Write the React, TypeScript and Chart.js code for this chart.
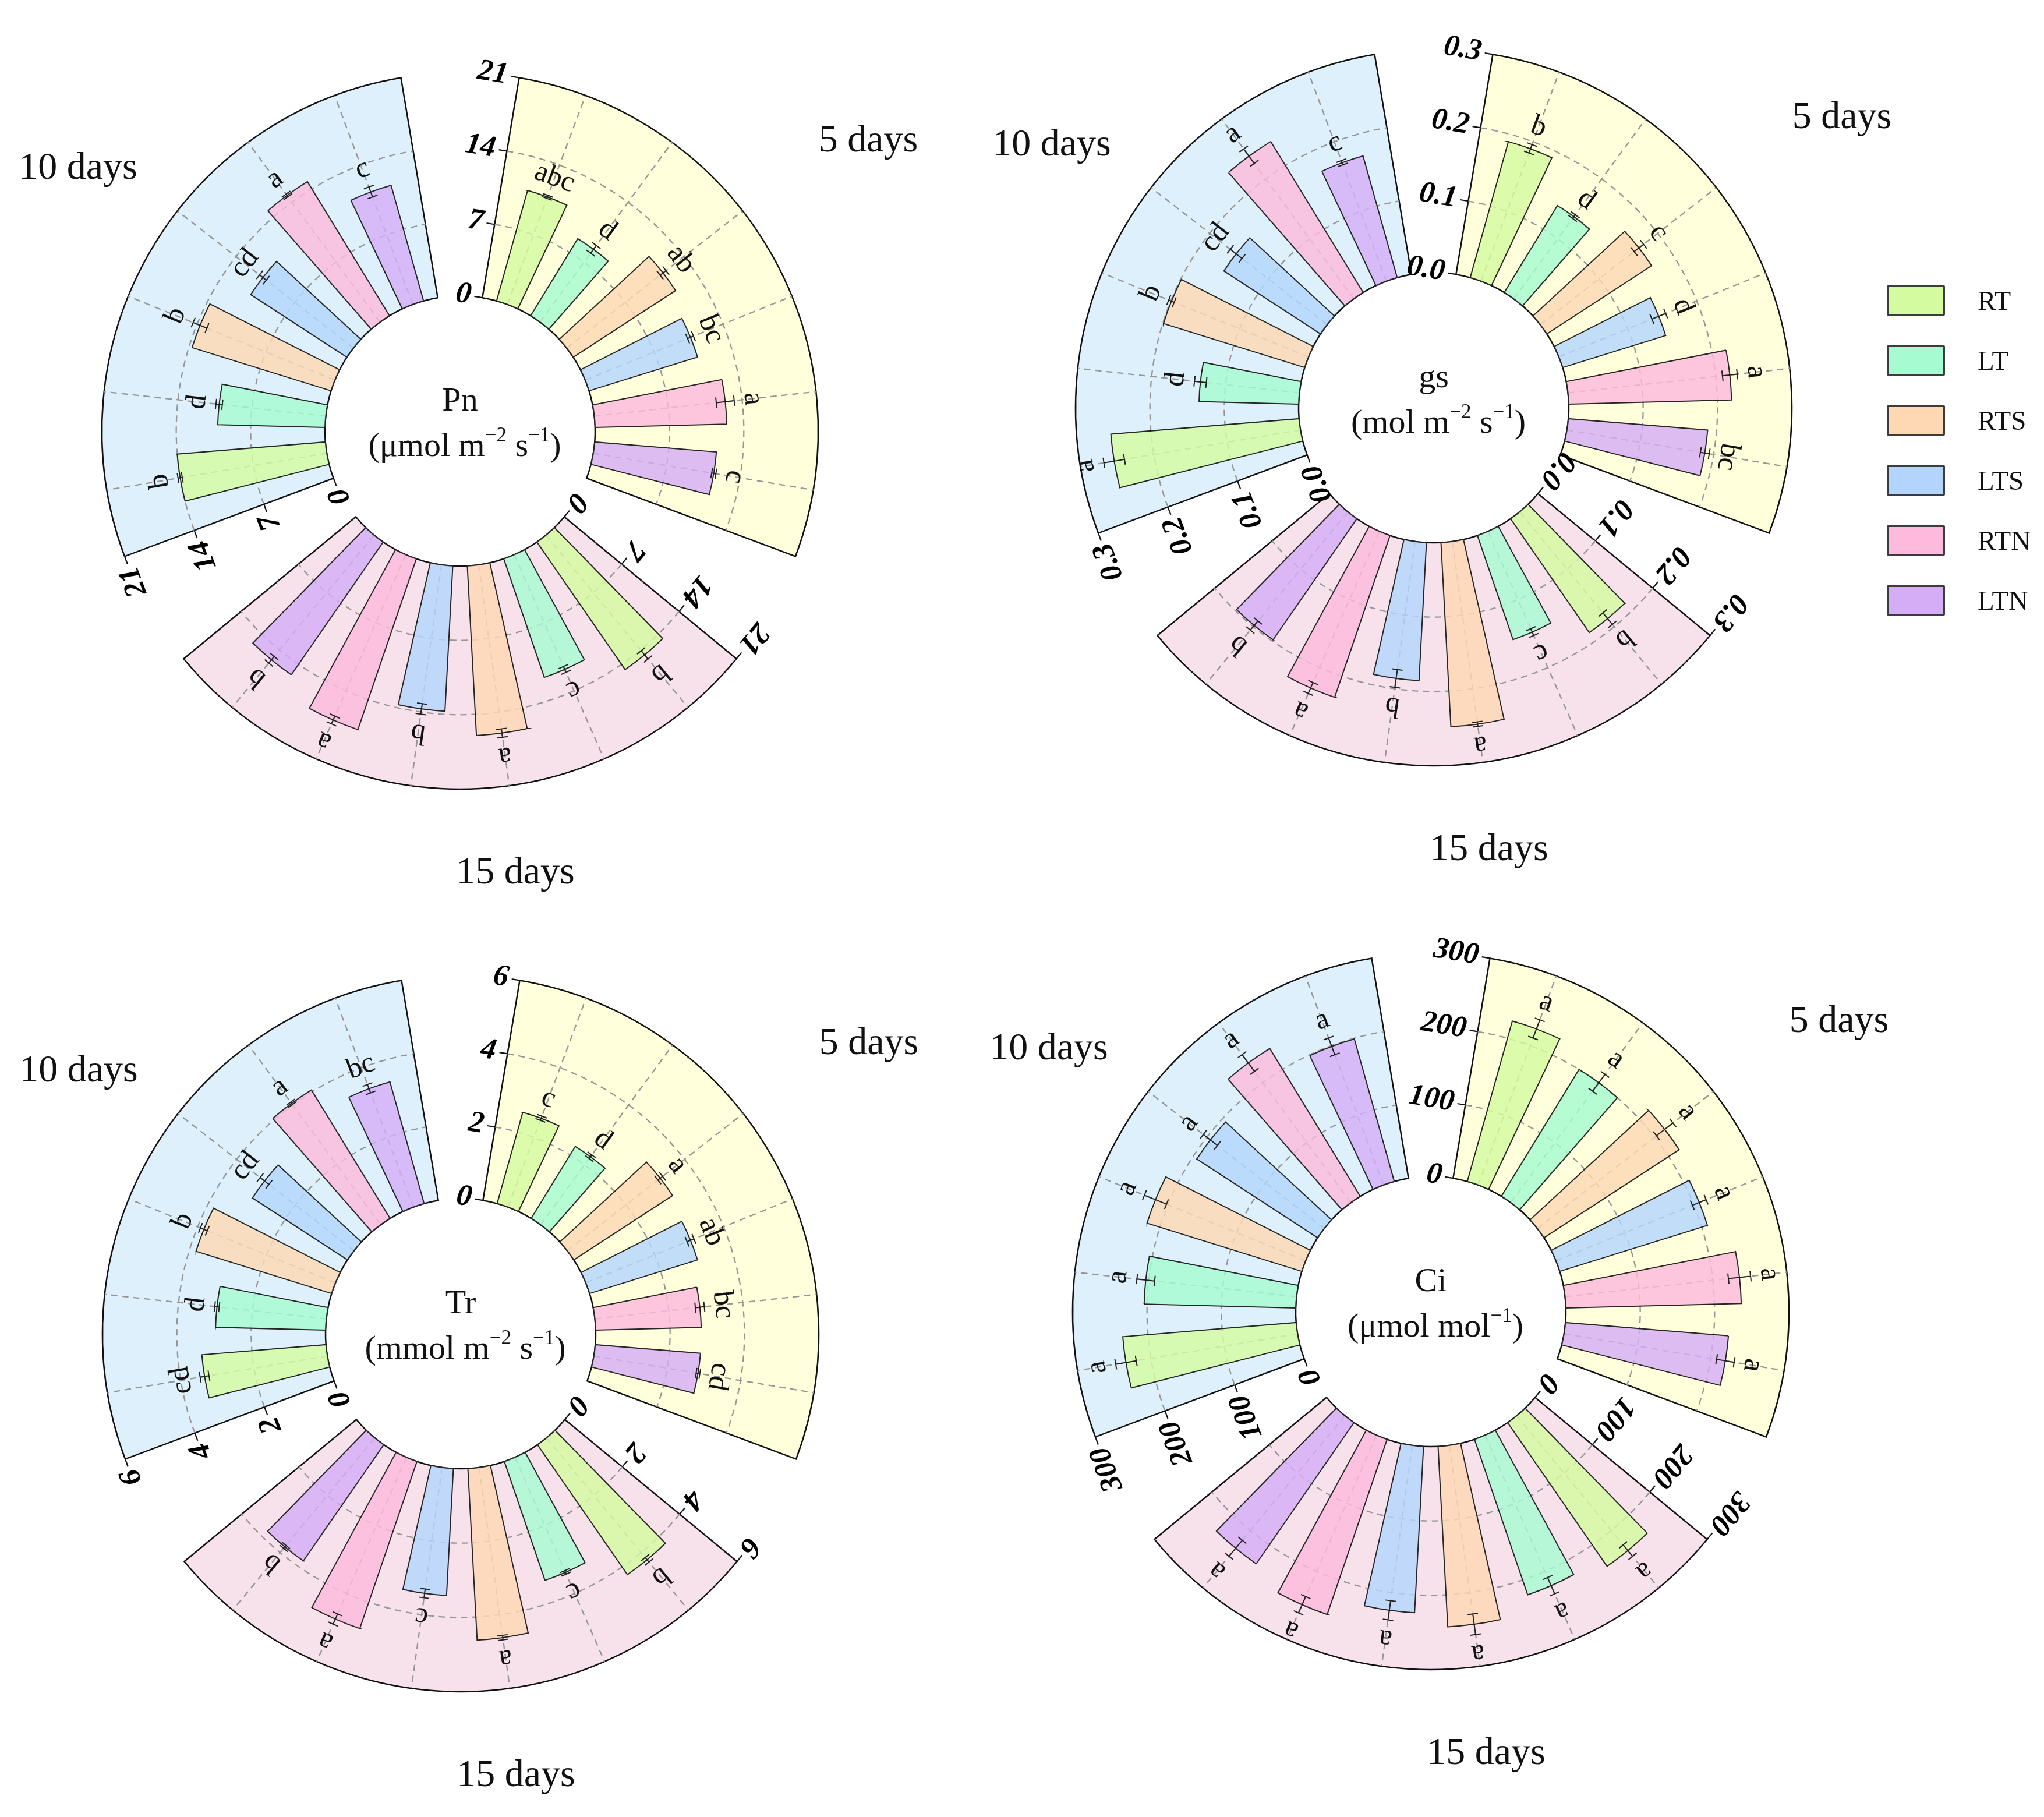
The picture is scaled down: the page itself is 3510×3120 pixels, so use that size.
import React, { useEffect, useRef } from "react";
import { Chart, registerables } from "chart.js";

Chart.register(...registerables);

const treatments = ["RT", "LT", "RTS", "LTS", "RTN", "LTN"];
const treatmentColors = ["#D4FBA0", "#A6FBD1", "#FED8B3", "#B3D5FD", "#FDBADC", "#D5ADF7"];

// sectors go clockwise from the top: 5 days, 15 days, 10 days
const periodLabels = ["5 days", "15 days", "10 days"];
const periodColors = ["#FFFFDB", "#F7E2EC", "#DEF0FC"];

// Pn
const pnTicks = [0, 7, 14, 21];
const pnTickLabels = ["0", "7", "14", "21"];
const pn5 = [10.8, 8.5, 11.5, 10.7, 12.4, 11.5];
const pn10 = [14.0, 10.1, 13.7, 10.8, 14.8, 11.3];
const pn15 = [14.6, 11.8, 16.0, 13.7, 17.0, 15.2];
const pnErr5 = [0.15, 0.45, 0.35, 0.3, 0.85, 0.2];
const pnErr10 = [0.2, 0.3, 0.7, 0.4, 0.15, 0.5];
const pnErr15 = [0.5, 0.3, 0.4, 0.5, 0.4, 0.4];
const pnSig5 = ["abc", "d", "ab", "bc", "a", "c"];
const pnSig10 = ["b", "d", "b", "cd", "a", "c"];
const pnSig15 = ["b", "c", "a", "b", "a", "b"];

// gs
const gsTicks = [0, 0.1, 0.2, 0.3];
const gsTickLabels = ["0.0", "0.1", "0.2", "0.3"];
const gs5 = [0.19, 0.137, 0.168, 0.145, 0.219, 0.188];
const gs10 = [0.254, 0.134, 0.199, 0.155, 0.238, 0.17];
const gs15 = [0.186, 0.148, 0.248, 0.186, 0.23, 0.198];
const gsErr5 = [0.006, 0.003, 0.008, 0.01, 0.01, 0.006];
const gsErr10 = [0.014, 0.008, 0.004, 0.01, 0.012, 0.003];
const gsErr15 = [0.01, 0.005, 0.003, 0.012, 0.008, 0.008];
const gsSig5 = ["b", "d", "c", "d", "a", "bc"];
const gsSig10 = ["a", "d", "b", "cd", "a", "c"];
const gsSig15 = ["b", "c", "a", "b", "a", "b"];

// Tr
const trTicks = [0, 2, 4, 6];
const trTickLabels = ["0", "2", "4", "6"];
const tr5 = [2.55, 2.27, 3.17, 3.04, 2.84, 2.84];
const tr10 = [3.35, 2.96, 3.82, 3.05, 4.05, 3.4];
const tr15 = [4.25, 3.38, 4.62, 3.42, 4.75, 3.8];
const trErr5 = [0.06, 0.06, 0.08, 0.1, 0.12, 0.05];
const trErr10 = [0.12, 0.06, 0.1, 0.15, 0.04, 0.12];
const trErr15 = [0.08, 0.05, 0.06, 0.12, 0.15, 0.05];
const trSig5 = ["c", "d", "a", "ab", "bc", "cd"];
const trSig10 = ["cd", "d", "b", "cd", "a", "bc"];
const trSig15 = ["b", "c", "a", "c", "a", "b"];

// Ci
const ciTicks = [0, 100, 200, 300];
const ciTickLabels = ["0", "100", "200", "300"];
const ci5 = [224, 200, 217, 208, 236, 220];
const ci10 = [234, 204, 218, 194, 233, 199];
const ci15 = [235, 221, 243, 224, 249, 231];
const ciErr5 = [13, 14, 14, 10, 15, 12];
const ciErr10 = [14, 12, 16, 12, 14, 12];
const ciErr15 = [10, 12, 14, 13, 12, 14];
const ciSig5 = ["a", "a", "a", "a", "a", "a"];
const ciSig10 = ["a", "a", "a", "a", "a", "a"];
const ciSig15 = ["a", "a", "a", "a", "a", "a"];

// angular layout (degrees)
const START_ANGLE = 9.5;
const SECTOR_W = 101;
const SECTOR_GAP = 19;
const SLOT = 15.8;
const BAR_W = 9.64;
const EDGE_PAD = (SECTOR_W - 6 * SLOT) / 2;
const RADIUS = 615;
const HOLE = 0.6057; // min of the radial scale = -HOLE * max

const SERIF = '"Liberation Serif", "Times New Roman", serif';

type Piece = { t: string; sup?: boolean };

interface Panel {
  name: string;
  unit: Piece[];
  ticks: number[];
  tickLabels: string[];
  values: number[][];
  errors: number[][];
  letters: string[][];
  left: number;
  top: number;
  width: number;
  height: number;
  cx: number;
  cy: number;
}

const panels: Panel[] = [
  {
    name: "Pn",
    unit: [{ t: "(\u03bcmol m" }, { t: "\u22122", sup: true }, { t: " s" }, { t: "\u22121", sup: true }, { t: ")" }],
    ticks: pnTicks, tickLabels: pnTickLabels,
    values: [pn5, pn15, pn10], errors: [pnErr5, pnErr15, pnErr10], letters: [pnSig5, pnSig15, pnSig10],
    left: 0, top: 0, width: 1700, height: 1660, cx: 790, cy: 740,
  },
  {
    name: "gs",
    unit: [{ t: "(mol m" }, { t: "\u22122", sup: true }, { t: " s" }, { t: "\u22121", sup: true }, { t: ")" }],
    ticks: gsTicks, tickLabels: gsTickLabels,
    values: [gs5, gs15, gs10], errors: [gsErr5, gsErr15, gsErr10], letters: [gsSig5, gsSig15, gsSig10],
    left: 1640, top: 0, width: 1800, height: 1660, cx: 822, cy: 700,
  },
  {
    name: "Tr",
    unit: [{ t: "(mmol m" }, { t: "\u22122", sup: true }, { t: " s" }, { t: "\u22121", sup: true }, { t: ")" }],
    ticks: trTicks, tickLabels: trTickLabels,
    values: [tr5, tr15, tr10], errors: [trErr5, trErr15, trErr10], letters: [trSig5, trSig15, trSig10],
    left: 0, top: 1500, width: 1700, height: 1620, cx: 791, cy: 790,
  },
  {
    name: "Ci",
    unit: [{ t: "(\u03bcmol mol" }, { t: "\u22121", sup: true }, { t: ")" }],
    ticks: ciTicks, tickLabels: ciTickLabels,
    values: [ci5, ci15, ci10], errors: [ciErr5, ciErr15, ciErr10], letters: [ciSig5, ciSig15, ciSig10],
    left: 1640, top: 1500, width: 1800, height: 1620, cx: 817, cy: 752,
  },
];

// where the period names sit, relative to the centre (5, 15, 10 days)
const dayOffsets = [
  [701, -497],
  [95, 760],
  [-656, -450],
];

function withAlpha(hex: string, a: number) {
  const n = parseInt(hex.slice(1), 16);
  return `rgba(${(n >> 16) & 255}, ${(n >> 8) & 255}, ${n & 255}, ${a})`;
}

function makeDecor(p: Panel, barIdx: number[][]) {
  return {
    id: "radialDecor",
    beforeDatasetsDraw(chart: any) {
      const r0 = chart.scales.r.getDistanceFromCenterForValue(0);
      chart.data.datasets.forEach((_: any, i: number) => {
        chart.getDatasetMeta(i).data.forEach((el: any) => {
          el.innerRadius = r0;
        });
      });
    },
    afterDatasetDraw(chart: any, args: any) {
      if (args.index !== 1) return;
      const { ctx } = chart;
      const scale = chart.scales.r;
      const cx = scale.xCenter;
      const cy = scale.yCenter;
      const r0 = scale.getDistanceFromCenterForValue(0);
      const rMax = scale.getDistanceFromCenterForValue(p.ticks[p.ticks.length - 1]);
      const sectors = chart.getDatasetMeta(1).data.filter((_: any, i: number) => i % 2 === 0);
      const bars = chart.getDatasetMeta(0).data;
      ctx.save();
      ctx.strokeStyle = "#969696";
      ctx.lineWidth = 2.3;
      ctx.setLineDash([11, 8]);
      sectors.forEach((el: any) => {
        p.ticks.slice(1, -1).forEach((t) => {
          ctx.beginPath();
          ctx.arc(cx, cy, scale.getDistanceFromCenterForValue(t), el.startAngle, el.endAngle);
          ctx.stroke();
        });
      });
      barIdx.flat().forEach((k) => {
        const el = bars[k];
        const a = (el.startAngle + el.endAngle) / 2;
        ctx.beginPath();
        ctx.moveTo(cx + r0 * Math.cos(a), cy + r0 * Math.sin(a));
        ctx.lineTo(cx + rMax * Math.cos(a), cy + rMax * Math.sin(a));
        ctx.stroke();
      });
      ctx.restore();
    },
    afterDatasetsDraw(chart: any) {
      const { ctx } = chart;
      const scale = chart.scales.r;
      const cx = scale.xCenter;
      const cy = scale.yCenter;
      const bars = chart.getDatasetMeta(0).data;
      const sectors = chart.getDatasetMeta(1).data.filter((_: any, i: number) => i % 2 === 0);

      // error bars and letters
      barIdx.forEach((row, s) => {
        row.forEach((k, j) => {
          const el = bars[k];
          const th = (el.startAngle + el.endAngle) / 2 + Math.PI / 2;
          const v = p.values[s][j];
          const e = p.errors[s][j];
          const r1 = scale.getDistanceFromCenterForValue(v - e);
          const r2 = scale.getDistanceFromCenterForValue(v + e);
          ctx.save();
          ctx.translate(cx, cy);
          ctx.rotate(th);
          ctx.strokeStyle = "#222";
          ctx.lineWidth = 2;
          ctx.beginPath();
          ctx.moveTo(0, -r1);
          ctx.lineTo(0, -r2);
          ctx.moveTo(-9, -r1);
          ctx.lineTo(9, -r1);
          ctx.moveTo(-9, -r2);
          ctx.lineTo(9, -r2);
          ctx.stroke();
          ctx.fillStyle = "#111";
          ctx.font = `50px ${SERIF}`;
          ctx.textAlign = "center";
          ctx.textBaseline = "middle";
          ctx.fillText(p.letters[s][j], 0, -(r2 + 32));
          ctx.restore();
        });
      });

      // radial axis at the start edge of each sector
      sectors.forEach((el: any) => {
        const th = el.startAngle + Math.PI / 2;
        ctx.save();
        ctx.translate(cx, cy);
        ctx.rotate(th);
        ctx.strokeStyle = "#111";
        ctx.lineWidth = 2.2;
        ctx.fillStyle = "#000";
        ctx.font = `italic bold 52px ${SERIF}`;
        ctx.textAlign = "right";
        ctx.textBaseline = "middle";
        p.ticks.forEach((t, i) => {
          const r = scale.getDistanceFromCenterForValue(t);
          ctx.beginPath();
          ctx.moveTo(0, -r);
          ctx.lineTo(-14, -r);
          ctx.stroke();
          ctx.fillText(p.tickLabels[i], -20, -r);
        });
        ctx.restore();
      });

      // centre title
      ctx.save();
      ctx.fillStyle = "#111";
      ctx.textBaseline = "alphabetic";
      ctx.textAlign = "center";
      ctx.font = `58px ${SERIF}`;
      ctx.fillText(p.name, cx, cy - 35);
      const mainFont = `58px ${SERIF}`;
      const supFont = `35px ${SERIF}`;
      let total = 0;
      p.unit.forEach((pc) => {
        ctx.font = pc.sup ? supFont : mainFont;
        total += ctx.measureText(pc.t).width;
      });
      let x = cx + 8 - total / 2;
      ctx.textAlign = "left";
      p.unit.forEach((pc) => {
        ctx.font = pc.sup ? supFont : mainFont;
        ctx.fillText(pc.t, x, pc.sup ? cy + 43 - 25 : cy + 43);
        x += ctx.measureText(pc.t).width;
      });

      // period names
      ctx.font = `66px ${SERIF}`;
      ctx.textAlign = "center";
      ctx.textBaseline = "middle";
      periodLabels.forEach((lab, s) => {
        ctx.fillText(lab, cx + dayOffsets[s][0], cy + dayOffsets[s][1]);
      });
      ctx.restore();
    },
  };
}

const RadialPanel: React.FC<{ p: Panel }> = ({ p }) => {
  const canvasRef = useRef<HTMLCanvasElement | null>(null);

  useEffect(() => {
    if (!canvasRef.current) return;
    const max = p.ticks[p.ticks.length - 1];

    // bars with gap elements between them
    const barData: number[] = [];
    const barAngles: number[] = [];
    const barFill: string[] = [];
    const isBar: boolean[] = [];
    const barIdx: number[][] = [];
    for (let s = 0; s < 3; s++) {
      barIdx.push([]);
      barData.push(0);
      barAngles.push(EDGE_PAD + (SLOT - BAR_W) / 2);
      barFill.push("rgba(0,0,0,0)");
      isBar.push(false);
      for (let j = 0; j < 6; j++) {
        barIdx[s].push(barData.length);
        barData.push(p.values[s][j]);
        barAngles.push(BAR_W);
        barFill.push(withAlpha(treatmentColors[j], 0.82));
        isBar.push(true);
        barData.push(0);
        barAngles.push(j < 5 ? SLOT - BAR_W : (SLOT - BAR_W) / 2 + EDGE_PAD + SECTOR_GAP);
        barFill.push("rgba(0,0,0,0)");
        isBar.push(false);
      }
    }

    const bgData: number[] = [];
    const bgAngles: number[] = [];
    const bgFill: string[] = [];
    periodColors.forEach((c) => {
      bgData.push(max, 0);
      bgAngles.push(SECTOR_W, SECTOR_GAP);
      bgFill.push(c, "rgba(0,0,0,0)");
    });

    const chart = new Chart(canvasRef.current, {
      type: "polarArea",
      data: {
        labels: barData.map(() => ""),
        datasets: [
          {
            data: barData,
            order: 0,
            angle: (c: any) => barAngles[c.dataIndex],
            backgroundColor: (c: any) => barFill[c.dataIndex],
            borderColor: "#262626",
            borderWidth: (c: any) => (isBar[c.dataIndex] ? 2 : 0),
            borderJoinStyle: "miter",
          } as any,
          {
            data: bgData,
            order: 1,
            angle: (c: any) => bgAngles[c.dataIndex],
            backgroundColor: (c: any) => bgFill[c.dataIndex],
            borderColor: "#111",
            borderWidth: (c: any) => (c.dataIndex % 2 === 0 ? 2.5 : 0),
            borderJoinStyle: "miter",
          } as any,
        ],
      },
      options: {
        animation: false,
        responsive: false,
        devicePixelRatio: 1,
        events: [],
        layout: {
          padding: {
            left: p.cx - RADIUS,
            top: p.cy - RADIUS,
            right: p.width - p.cx - RADIUS,
            bottom: p.height - p.cy - RADIUS,
          },
        },
        plugins: { legend: { display: false }, tooltip: { enabled: false } },
        scales: {
          r: {
            min: -HOLE * max,
            max,
            startAngle: START_ANGLE,
            ticks: { display: false },
            grid: { display: false },
            angleLines: { display: false },
            pointLabels: { display: false },
          },
        },
      } as any,
      plugins: [makeDecor(p, barIdx)],
    });

    return () => {
      chart.destroy();
    };
  }, [p]);

  return (
    <canvas
      ref={canvasRef}
      width={p.width}
      height={p.height}
      style={{ position: "absolute", left: p.left, top: p.top, width: p.width, height: p.height }}
    />
  );
};

export default function App() {
  return (
    <div style={{ position: "absolute", left: 0, top: 0, width: 3510, height: 3120, background: "#fff", overflow: "hidden" }}>
      {panels.map((p) => (
        <RadialPanel key={p.name} p={p} />
      ))}
      {treatments.map((t, i) => (
        <React.Fragment key={t}>
          <div
            style={{
              position: "absolute",
              left: 3240,
              top: 490 + i * 103,
              width: 100,
              height: 52,
              boxSizing: "border-box",
              border: "3px solid #3c3c3c",
              borderRadius: 2,
              background: treatmentColors[i],
            }}
          />
          <div
            style={{
              position: "absolute",
              left: 3396,
              top: 490 + i * 103,
              height: 52,
              lineHeight: "52px",
              fontFamily: SERIF,
              fontSize: 47,
              color: "#111",
            }}
          >
            {t}
          </div>
        </React.Fragment>
      ))}
    </div>
  );
}
